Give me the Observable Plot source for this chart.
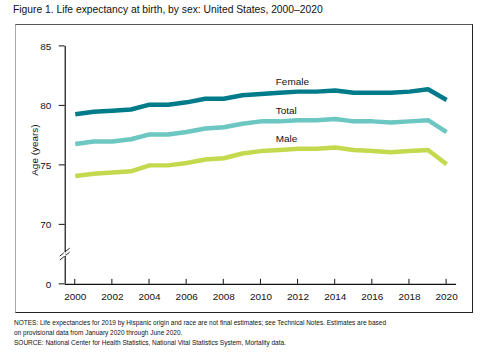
<!DOCTYPE html>
<html><head><meta charset="utf-8">
<script src="https://cdn.jsdelivr.net/npm/d3@7"></script>
<script src="https://cdn.jsdelivr.net/npm/@observablehq/plot@0.6"></script>
<style>
body{margin:0;background:#fff;font-family:"Liberation Sans",Arial,sans-serif;width:486px;height:353px;position:relative;overflow:hidden}
#title{position:absolute;left:13px;top:4px;font-size:10.3px;color:#111;white-space:nowrap}
#box{position:absolute;left:15px;top:24px;width:458px;height:289px;border:1px solid #222;border-left-color:#aaa;border-top-color:#555;box-sizing:border-box}
#chart{position:absolute;left:0;top:0}
#notes{position:absolute;left:14px;top:318px;font-size:6.5px;line-height:10px;color:#111;white-space:nowrap}
</style></head><body>
<div id="title">Figure 1. Life expectancy at birth, by sex: United States, 2000–2020</div>
<div id="box"><div id="chart"></div></div>
<div id="notes">NOTES: Life expectancies for 2019 by Hispanic origin and race are not final estimates; see Technical Notes. Estimates are based<br>on provisional data from January 2020 through June 2020.<br>SOURCE: National Center for Health Statistics, National Vital Statistics System, Mortality data.</div>
<script>
const years = d3.range(2000, 2021);
const female = [79.3,79.5,79.6,79.7,80.1,80.1,80.3,80.6,80.6,80.9,81.0,81.1,81.2,81.2,81.3,81.1,81.1,81.1,81.2,81.4,80.5];
const total  = [76.8,77.0,77.0,77.2,77.6,77.6,77.8,78.1,78.2,78.5,78.7,78.7,78.8,78.8,78.9,78.7,78.7,78.6,78.7,78.8,77.8];
const male   = [74.1,74.3,74.4,74.5,75.0,75.0,75.2,75.5,75.6,76.0,76.2,76.3,76.4,76.4,76.5,76.3,76.2,76.1,76.2,76.3,75.1];
const seriesNames = ["Female","Total","Male"];
const seriesColors = ["#007b8a","#6cc6c1","#c4d94e"];
const labelYear = [2010.8, 2010.8, 2010.8];
const labelValue = [82.0, 79.6, 77.2];
const yTicks = [65,70,75,80,85];
const yTickLabels = ["0","70","75","80","85"];
const xTicks = d3.range(2000, 2021, 2);
const breakValue = 67.5;

const rows = [];
[female,total,male].forEach((vals,i)=>vals.forEach((v,j)=>rows.push({series:seriesNames[i],year:years[j],value:v})));
const labels = seriesNames.map((s,i)=>({series:s,year:labelYear[i],value:labelValue[i]}));

const plot = Plot.plot({
  width: 458, height: 289,
  marginLeft: 49, marginRight: 16, marginTop: 21, marginBottom: 29,
  insetLeft: 10, insetRight: 10,
  style:{fontFamily:"Liberation Sans, Arial, sans-serif", fontSize:"10px", color:"#111", background:"transparent"},
  x:{domain:[2000,2020], axis:null},
  y:{domain:[65,85], axis:null},
  color:{domain:seriesNames, range:seriesColors},
  marks:[
    Plot.line(rows,{x:"year",y:"value",z:"series",stroke:"series",strokeWidth:4.5,strokeLinejoin:"miter",strokeLinecap:"butt"}),
    Plot.text(labels,{x:"year",y:"value",text:"series",textAnchor:"start",fontSize:10,fill:"#111"}),
    Plot.ruleY([65],{stroke:"#111",strokeWidth:1.2}),
    Plot.ruleX([1999.46],{y1:65,y2:85,stroke:"#111",strokeWidth:1.2}),
    Plot.axisX({ticks:xTicks,tickSize:0,tickFormat:d=>String(d),tickPadding:9,fontSize:10,anchor:"bottom",label:null}),
    Plot.axisY({ticks:yTicks,tickSize:0,tickPadding:0,tickFormat:(d)=>yTickLabels[yTicks.indexOf(d)],fontSize:10,anchor:"left",dx:-14,label:null})
  ]
});
document.getElementById("chart").appendChild(plot);

const sx = plot.scale("x"), sy = plot.scale("y");
const svg = d3.select(plot);
const x0 = sx.apply(1999.46);
// x ticks pointing up
svg.append("g").selectAll("line").data(xTicks).join("line")
  .attr("x1",d=>sx.apply(d)).attr("x2",d=>sx.apply(d))
  .attr("y1",sy.apply(65)).attr("y2",sy.apply(65)-5).attr("stroke","#111");
// y ticks pointing left
svg.append("g").selectAll("line").data(yTicks).join("line")
  .attr("x1",x0).attr("x2",x0-6)
  .attr("y1",d=>sy.apply(d)).attr("y2",d=>sy.apply(d)).attr("stroke","#111");
// axis break
const by = sy.apply(breakValue);
svg.append("g").selectAll("line").data([-2,2]).join("line")
  .attr("x1",x0-5).attr("x2",x0+5)
  .attr("y1",d=>by+4+d).attr("y2",d=>by-4+d)
  .attr("stroke","#222").attr("stroke-width",1);
svg.append("rect").attr("x",x0-1).attr("y",by-2).attr("width",2).attr("height",4).attr("fill","#fff");
// y label
svg.append("text").attr("transform",`translate(${22},${(sy.apply(70)+sy.apply(85))/2+15}) rotate(-90)`)
  .attr("text-anchor","middle").attr("font-size",10).attr("fill","#111").text("Age (years)");
</script>
</body></html>
